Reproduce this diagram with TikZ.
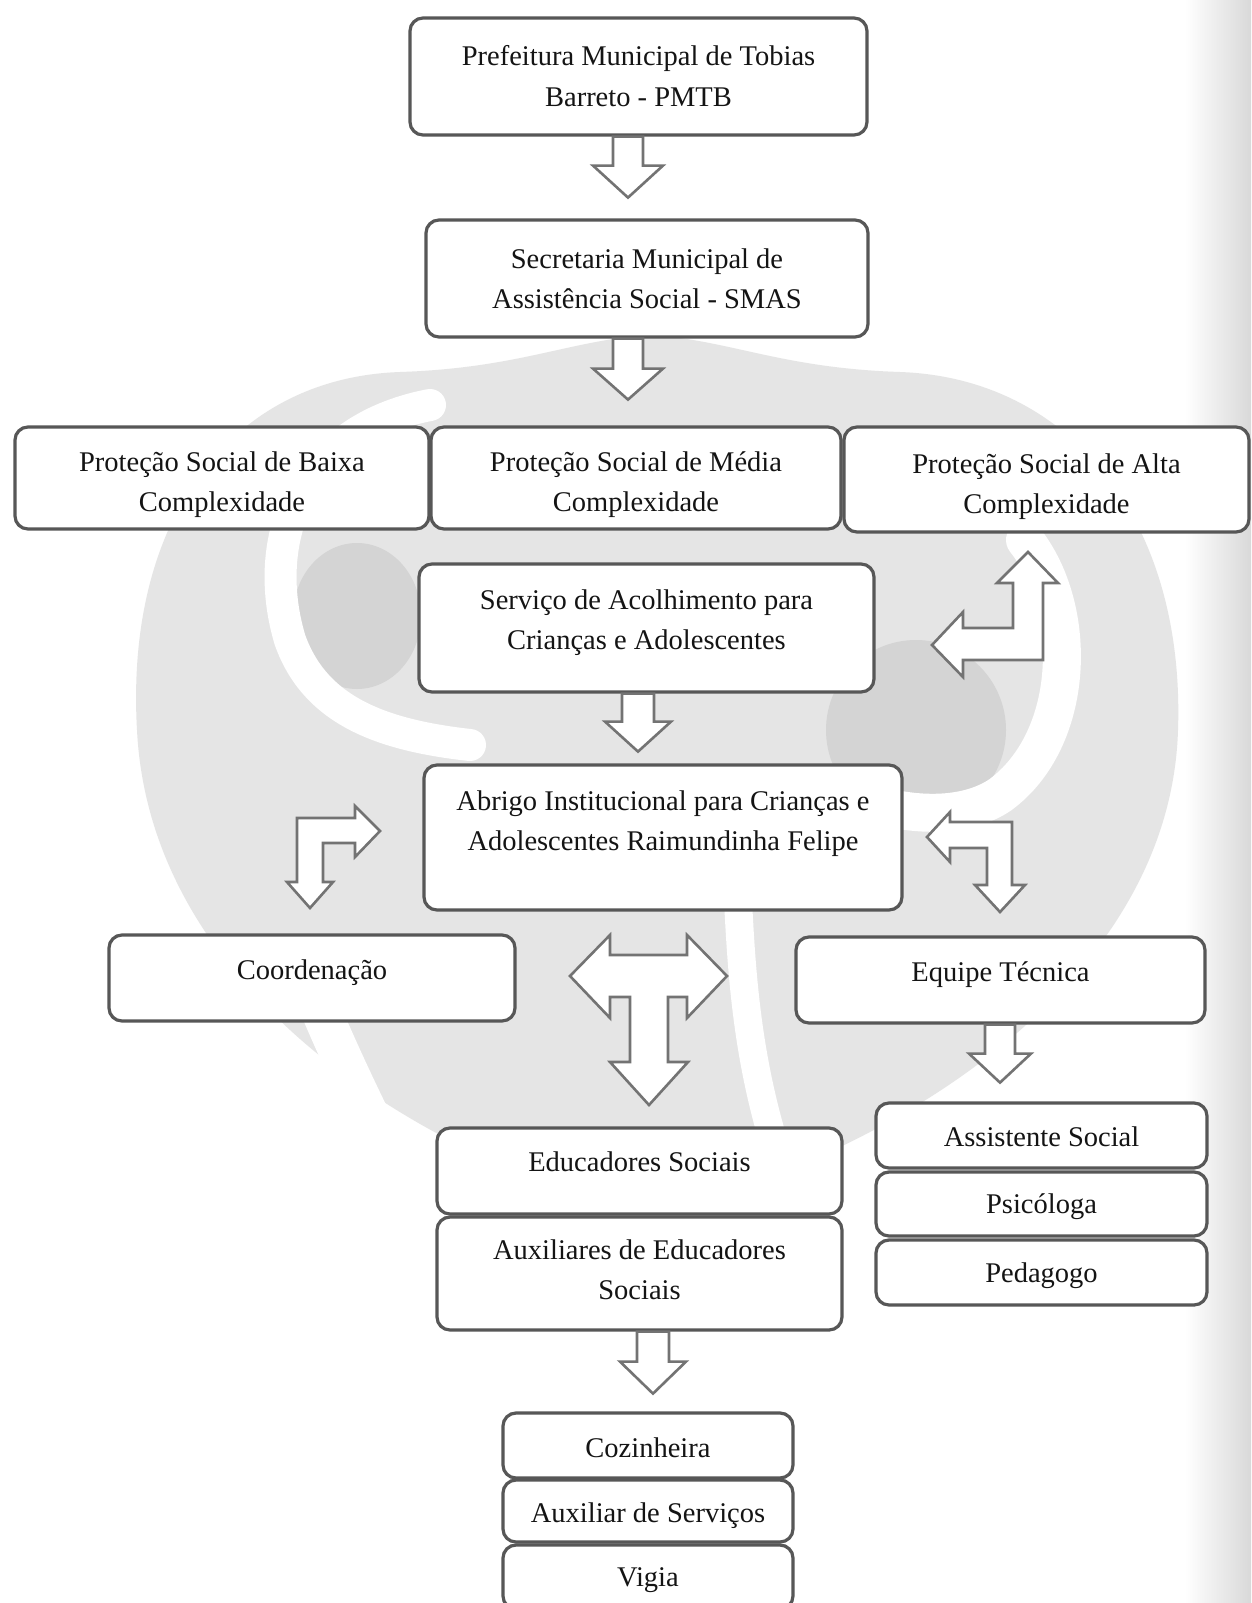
\documentclass[tikz,border=0pt]{standalone}
\usepackage{fontspec}
\setmainfont{Liberation Serif}
\definecolor{boxline}{HTML}{575757}
\definecolor{arrowline}{HTML}{737373}
\definecolor{wmlight}{HTML}{E5E5E5}
\definecolor{wmdark}{HTML}{D4D4D4}

% box with its text placed at its own height (the last text line sits at #6)
\newcommand\obox[7]{%
  \node[orgbox, minimum width=#4pt, minimum height=#5pt] (#1) at (#2,#3) {};
  \node[orgtext] (#1-t) at (#2,#6) {#7};}

% hollow block arrow pointing down from the bottom of a box
% #1 source node, #2 x, #3 shaft half-width, #4 head half-width, #5 shaft length, #6 head length
\newcommand\blockdown[6]{%
  \draw[blockarrow] (#1.south -| #2,0) -- ++(-#3,0) -- ++(0,#5) -- ++({#3-#4},0)
    -- ++(#4,#6) -- ++(#4,-#6) -- ++({#3-#4},0) -- ++(0,-#5) -- cycle;}

\begin{document}
\begin{tikzpicture}[x=1pt,y=-1pt,
  orgbox/.style={draw=boxline, line width=3.2pt, rounded corners=13pt, fill=white, inner sep=0pt},
  orgtext/.style={align=center, text=black!92, font=\fontsize{28.5}{40.5}\selectfont,
    text height=20pt, text depth=6pt, inner sep=0pt},
  blockarrow/.style={draw=arrowline, line width=2.6pt, fill=white, line join=miter},
]
\useasboundingbox (0,0) rectangle (1251,1603);
\fill[white] (0,0) rectangle (1251,1603);

% faint logo behind the chart
\fill[wmlight] (650,1215) .. controls (420,1160) and (150,990) .. (137,730)
  .. controls (125,520) and (230,378) .. (400,372)
  .. controls (520,368) and (570,340) .. (650,335)
  .. controls (730,340) and (780,368) .. (900,372)
  .. controls (1070,378) and (1185,520) .. (1178,730)
  .. controls (1170,990) and (880,1160) .. (650,1215) -- cycle;
\fill[wmdark] (357,616) ellipse [x radius=64, y radius=73];
\fill[wmdark] (916,730) circle [radius=90];
\draw[white, line width=32pt, line cap=round] (430,405) .. controls (300,430) and (260,540) .. (290,640)
  .. controls (315,710) and (380,735) .. (470,745);
\draw[white, line width=38pt, line cap=round] (1025,540) .. controls (1080,610) and (1075,740) .. (1000,795)
  .. controls (970,815) and (930,815) .. (900,810);
\draw[white, line width=40pt] (300,960) .. controls (340,1060) and (380,1140) .. (425,1225);
\draw[white, line width=28pt] (738,900) .. controls (742,980) and (748,1080) .. (790,1190);

% scanner shading along the right edge
\fill[left color=white, right color=gray!30] (1185,0) rectangle (1251,1603);

% boxes
\obox{pref}{638.5}{76.5}{457}{117}{99}{Prefeitura Municipal de Tobias\\Barreto - PMTB}
\obox{smas}{647}{278.5}{442}{117}{301.5}{Secretaria Municipal de\\Assistência Social - SMAS}
\obox{baixa}{222}{478}{414}{102}{504.5}{Proteção Social de Baixa\\Complexidade}
\obox{media}{636}{478}{410}{102}{504.5}{Proteção Social de Média\\Complexidade}
\obox{alta}{1046.5}{479.5}{405}{105}{506.5}{Proteção Social de Alta\\Complexidade}
\obox{serv}{646.5}{628}{455}{128}{642.5}{Serviço de Acolhimento para\\Crianças e Adolescentes}
\obox{abrigo}{663}{837.5}{478}{145}{843.5}{Abrigo Institucional para Crianças e\\Adolescentes Raimundinha Felipe}
\obox{coord}{312}{978}{406}{86}{972.5}{Coordenação}
\obox{equipe}{1000.5}{980}{409}{86}{974.5}{Equipe Técnica}
\obox{educ}{639.5}{1171}{405}{86}{1164.5}{Educadores Sociais}
\obox{auxe}{639.5}{1273.5}{405}{113}{1292.5}{Auxiliares de Educadores\\Sociais}
\obox{assist}{1041.5}{1135.5}{331}{65}{1139}{Assistente Social}
\obox{psico}{1041.5}{1204}{331}{64}{1206.5}{Psicóloga}
\obox{peda}{1041.5}{1272.5}{331}{65}{1275.5}{Pedagogo}
\obox{coz}{648}{1445.5}{290}{65}{1450.5}{Cozinheira}
\obox{auxs}{648}{1511}{290}{62}{1515}{Auxiliar de Serviços}
\obox{vigia}{648}{1577}{290}{64}{1579.5}{Vigia}

% straight block arrows
\blockdown{pref}{628}{15}{35}{29}{32}
\blockdown{smas}{628}{15}{35}{30}{31}
\blockdown{serv}{638}{16}{33}{28}{30}
\blockdown{equipe}{1000}{15}{31}{29}{29}
\blockdown{auxe}{653}{16}{33}{30}{32}

% bent arrow between the Alta column and the Serviço box
\draw[blockarrow] (1028,552) -- (1058,583) -- (1043,583) -- (1043,660) -- (963,660) -- (963,677)
  -- (932,645) -- (963,612) -- (963,628) -- (1013,628) -- (1013,583) -- (997,583) -- cycle;
% bent arrow on the Coordenação side
\draw[blockarrow] (380,831) -- (355,857) -- (355,843) -- (323,843) -- (323,882) -- (333,882)
  -- (310,908) -- (287,882) -- (297,882) -- (297,818) -- (355,818) -- (355,806) -- cycle;
% bent arrow on the Equipe Técnica side
\draw[blockarrow] (927,837) -- (950,812) -- (950,822) -- (1012,822) -- (1012,885) -- (1025,885)
  -- (1000,912) -- (975,885) -- (987,885) -- (987,848) -- (950,848) -- (950,862) -- cycle;
% three-way arrow under the Abrigo box
\draw[blockarrow] (570,976) -- (610,935) -- (610,955) -- (687,955) -- (687,935) -- (727,976)
  -- (687,1018) -- (687,997) -- (668,997) -- (668,1062) -- (688,1062) -- (649,1105)
  -- (610,1062) -- (630,1062) -- (630,997) -- (610,997) -- (610,1018) -- cycle;
\end{tikzpicture}
\end{document}
